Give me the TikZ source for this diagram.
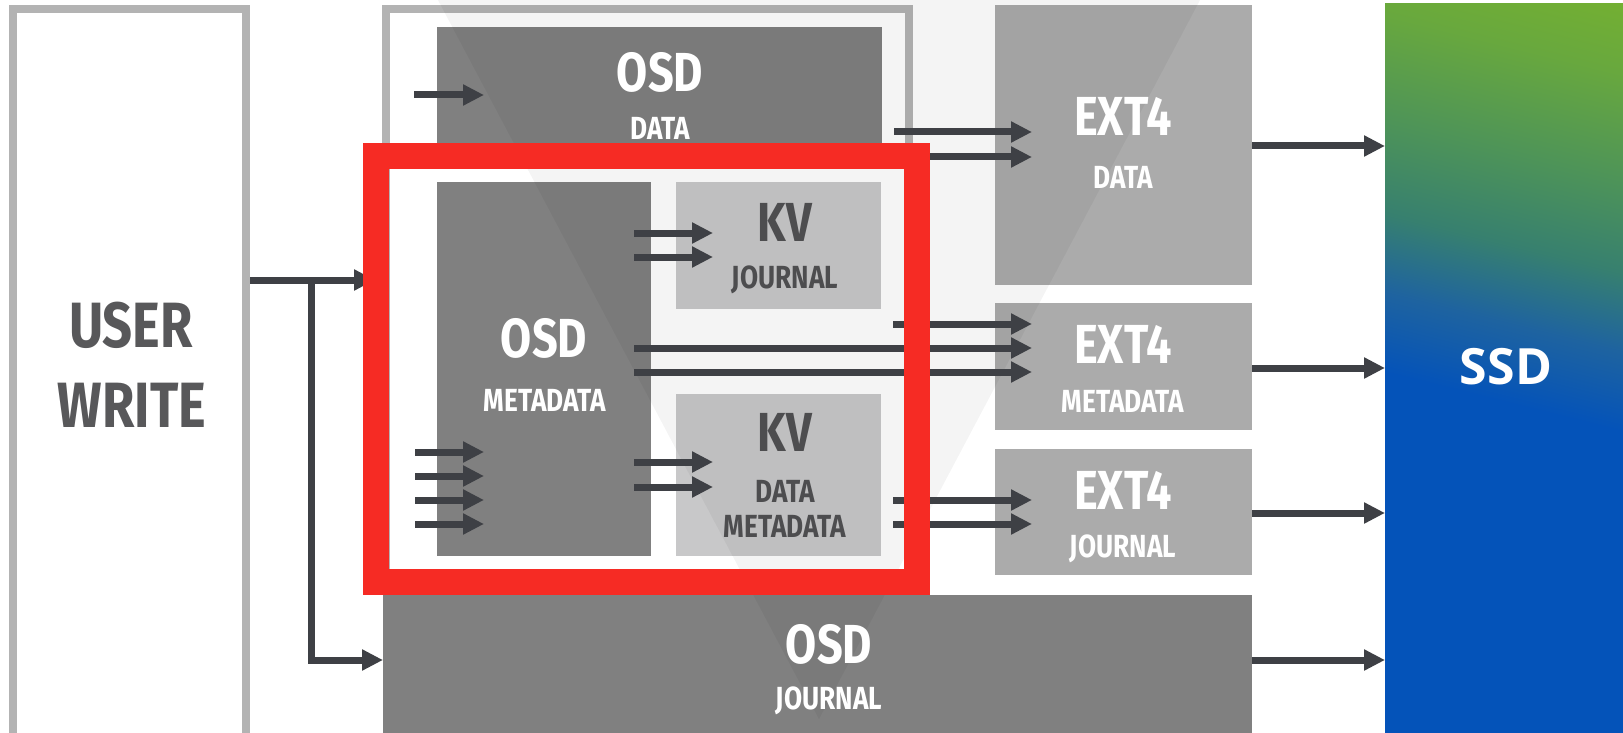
\documentclass[tikz,border=0pt]{standalone}
\usepackage{fontspec}
\usetikzlibrary{arrows.meta}
\newfontfamily\labfont{Fira Sans}[FakeStretch=0.82]
\newfontfamily\ssdfont{Open Sans}
\definecolor{osdgray}{HTML}{808080}
\definecolor{kvgray}{HTML}{C8C8C9}
\definecolor{extgray}{HTML}{ABABAB}
\definecolor{framegray}{HTML}{B3B3B3}
\definecolor{arrowcol}{HTML}{3E4045}
\definecolor{redbox}{HTML}{F62B24}
\definecolor{kvtext}{HTML}{4D4D4F}
\definecolor{usertext}{HTML}{58585A}
\definecolor{ssdblue}{HTML}{0453B9}
\definecolor{ssdbt}{HTML}{1E63A0}
\definecolor{ssdteal}{HTML}{37806F}
\definecolor{ssdgt}{HTML}{4E9458}
\definecolor{ssdgreen}{HTML}{68A83E}
\definecolor{ssdlime}{HTML}{7DB628}
\pgfdeclareverticalshading{ssdshade}{100bp}{color(0bp)=(ssdblue); color(48bp)=(ssdblue); color(54bp)=(ssdbt); color(60bp)=(ssdteal); color(67bp)=(ssdgt); color(75bp)=(ssdgreen); color(85bp)=(ssdlime); color(100bp)=(ssdlime)}
\tikzset{
  boxn/.style={inner sep=0pt, outer sep=0pt, anchor=north west},
  arr/.style={draw=arrowcol, line width=7pt, -{Triangle[length=21pt,width=20pt]}},
  txt/.style={inner sep=0pt, outer sep=0pt, anchor=center},
  bigw/.style={txt, text=white, font=\labfont\bfseries\fontsize{55}{55}\selectfont},
  smallw/.style={txt, text=white, font=\labfont\bfseries\fontsize{32}{32}\selectfont},
  bigk/.style={txt, text=kvtext, font=\labfont\bfseries\fontsize{55}{55}\selectfont},
  smallk/.style={txt, text=kvtext, font=\labfont\bfseries\fontsize{32}{32}\selectfont},
  usert/.style={txt, text=usertext, font=\labfont\bfseries\fontsize{64}{64}\selectfont},
}
\begin{document}
\begin{tikzpicture}[x=1pt,y=-1pt]
\useasboundingbox (0,0) rectangle (1623,733);
\clip (0,0) rectangle (1623,733);
\fill[white] (0,0) rectangle (1623,733);

% frames
\node[boxn, draw=framegray, line width=8pt, minimum width=233.5pt, minimum height=740pt] (user) at (12.5,8.7) {};
\node[boxn, draw=framegray, line width=8pt, minimum width=523pt, minimum height=581pt] (outer) at (386,9) {};

% grey boxes
\node[boxn, fill=osdgray, minimum width=445pt, minimum height=133pt] (osddata) at (437,27) {};
\node[boxn, fill=osdgray, minimum width=214pt, minimum height=374pt] (osdmeta) at (437,182) {};
\node[boxn, fill=kvgray, minimum width=205pt, minimum height=127pt] (kvj) at (676,182) {};
\node[boxn, fill=kvgray, minimum width=205pt, minimum height=162pt] (kvdm) at (676,394) {};
\node[boxn, fill=extgray, minimum width=257pt, minimum height=280pt] (ext4d) at (995,5) {};
\node[boxn, fill=extgray, minimum width=257pt, minimum height=127pt] (ext4m) at (995,303) {};
\node[boxn, fill=extgray, minimum width=257pt, minimum height=126pt] (ext4j) at (995,449) {};
\node[boxn, fill=osdgray, minimum width=869pt, minimum height=150pt] (osdj) at (383,595) {};

% watermark
\fill[black, opacity=0.045] (438,0) -- (1200,0) -- (819,719) -- cycle;

% SSD
\node[boxn, shade, shading=ssdshade, shading angle=-14, minimum width=245pt, minimum height=745pt] (ssd) at (1385,4) {};

% arrows from user write
\coordinate (uw) at (250,280);
\coordinate (br) at (311,280);
\coordinate (jy) at (0,660);
\draw[arr] (uw) -- (375,280) coordinate (uwend);
\draw[arr, line join=miter] (br) |- (osdj.west |- jy);

% arrow into OSD data
\coordinate (od) at (414,95);
\draw[arr] (od) -- ([xshift=47pt]osddata.west |- od);

% left four arrows into OSD metadata
\foreach \y in {452,476,500,524} {
  \coordinate (l\y) at (415,\y);
  \draw[arr] (l\y) -- ([xshift=47pt]osdmeta.west |- l\y);
}
% OSD metadata -> KV
\foreach \y in {233,257} {
  \coordinate (k\y) at (634,\y);
  \draw[arr] (k\y) -- ([xshift=37pt]kvj.west |- k\y);
}
\foreach \y in {462,487} {
  \coordinate (d\y) at (634,\y);
  \draw[arr] (d\y) -- ([xshift=37pt]kvdm.west |- d\y);
}
% -> EXT4 data
\foreach \y in {132,157} {
  \coordinate (e\y) at (894,\y);
  \draw[arr] (e\y) -- ([xshift=37pt]ext4d.west |- e\y);
}
% -> EXT4 metadata
\coordinate (m324) at (893,324);
\draw[arr] (m324) -- ([xshift=37pt]ext4m.west |- m324);
\foreach \y in {348,372} {
  \coordinate (m\y) at (634,\y);
  \draw[arr] (m\y) -- ([xshift=37pt]ext4m.west |- m\y);
}
% -> EXT4 journal
\foreach \y in {500,524} {
  \coordinate (j\y) at (893,\y);
  \draw[arr] (j\y) -- ([xshift=37pt]ext4j.west |- j\y);
}
% -> SSD
\coordinate (s1) at (1252,146);
\coordinate (s2) at (1252,368);
\coordinate (s3) at (1252,513);
\coordinate (s4) at (1252,660);
\draw[arr] (s1) -- (ssd.west |- s1);
\draw[arr] (s2) -- (ssd.west |- s2);
\draw[arr] (s3) -- (ssd.west |- s3);
\draw[arr] (s4) -- (ssd.west |- s4);

% red highlight
\node[boxn, draw=redbox, line width=26pt, minimum width=541pt, minimum height=426pt] (red) at (376,156) {};

% labels
\node[usert] (tuser) at (131,325) {USER};
\node[usert] (twrite) at (132,405) {WRITE};
\node[bigw] (t1) at (660,72) {OSD};
\node[smallw] (t2) at (660,128) {DATA};
\node[bigw] (t3) at (544,338) {OSD};
\node[smallw] (t4) at (545,400) {METADATA};
\node[bigk] (t5) at (785,222) {KV};
\node[smallk] (t6) at (785,280) {JOURNAL};
\node[bigk] (t7) at (785,432) {KV};
\node[smallk] (t8) at (785,491) {DATA};
\node[smallk] (t9) at (785,526) {METADATA};
\node[bigw] (t10) at (1123,116) {EXT4};
\node[smallw] (t11) at (1123,177) {DATA};
\node[bigw] (t12) at (1123,344) {EXT4};
\node[smallw] (t13) at (1123,401) {METADATA};
\node[bigw] (t14) at (1123,490) {EXT4};
\node[smallw] (t15) at (1123,549) {JOURNAL};
\node[bigw] (t16) at (829,644) {OSD};
\node[smallw] (t17) at (829,701) {JOURNAL};
\node[txt, text=white, font=\ssdfont\bfseries\fontsize{50}{50}\selectfont] (tssd) at (1506,367) {SSD};
\end{tikzpicture}
\end{document}
